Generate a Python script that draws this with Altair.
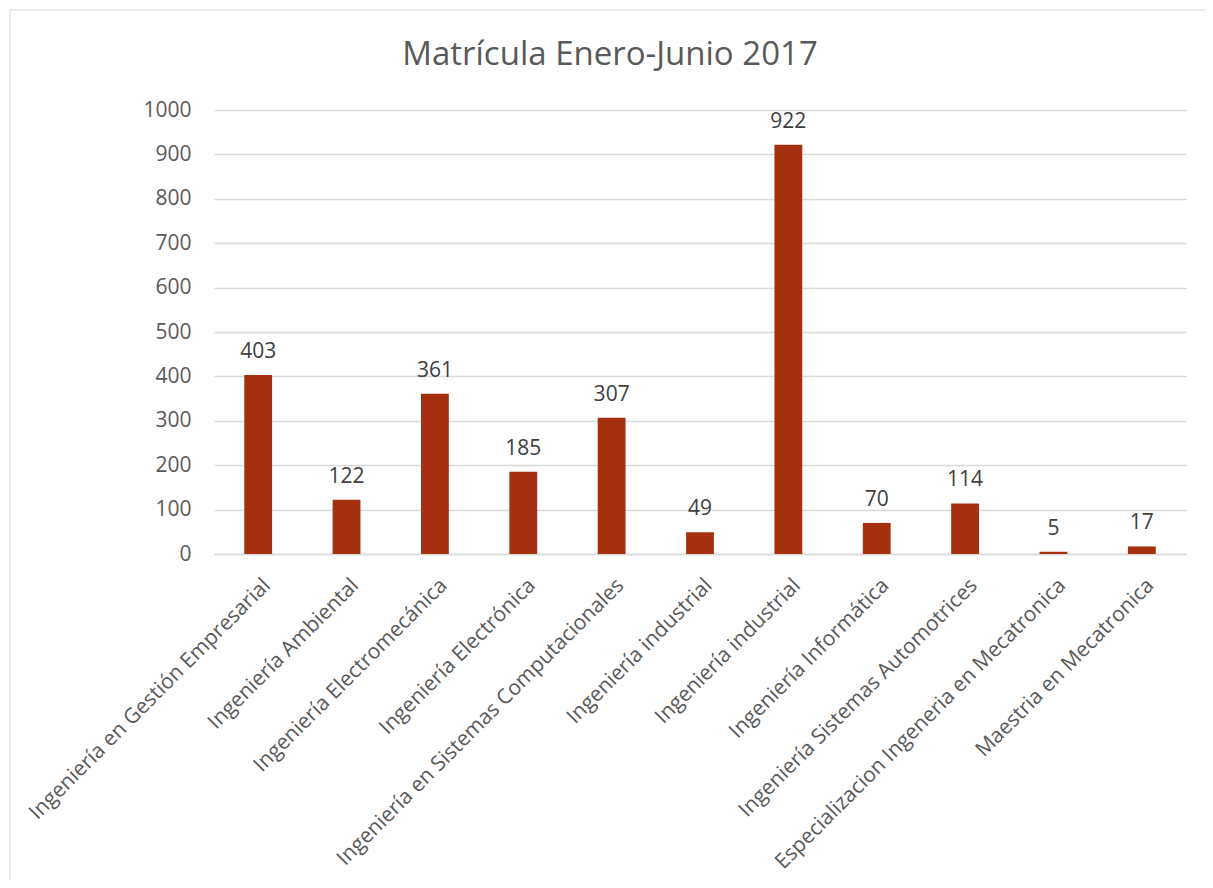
import altair as alt
import pandas as pd

programas = [
    "Ingeniería en Gestión Empresarial",
    "Ingeniería Ambiental",
    "Ingeniería Electromecánica",
    "Ingeniería Electrónica",
    "Ingeniería en Sistemas Computacionales",
    "Ingeniería industrial",
    "Ingeniería industrial ",
    "Ingeniería Informática",
    "Ingeniería Sistemas Automotrices",
    "Especializacion Ingeneria en Mecatronica",
    "Maestria en Mecatronica",
]
matricula = [403, 122, 361, 185, 307, 49, 922, 70, 114, 5, 17]
y_ticks = [0, 100, 200, 300, 400, 500, 600, 700, 800, 900, 1000]
titulo = "Matrícula Enero-Junio 2017"

df = pd.DataFrame({"programa": programas, "matricula": matricula})

FONT = "Open Sans"
W, H = 972, 444
PL, PT, PR, PB = 206, 102, 19, 326

xenc = alt.X(
    "programa:N",
    sort=programas,
    scale=alt.Scale(paddingInner=0.685, paddingOuter=0.3425),
    axis=alt.Axis(
        title=None,
        labelAngle=-45,
        labelAlign="right",
        labelBaseline="middle",
        labelPadding=28,
        labelOffset=9,
        labelFontSize=21,
        labelColor="#595959",
        labelFont=FONT,
        labelExpr="trim(datum.label)",
        labelLimit=500,
        ticks=False,
        domain=True,
        domainColor="#d9d9d9",
        domainWidth=1.3,
        grid=False,
    ),
)
yenc = alt.Y(
    "matricula:Q",
    scale=alt.Scale(domain=[0, 1000], nice=False),
    axis=alt.Axis(
        title=None,
        values=y_ticks,
        format="d",
        labelFontSize=21,
        labelColor="#595959",
        labelFont=FONT,
        labelPadding=23,
        ticks=False,
        domain=False,
        gridColor="#d9d9d9",
        gridWidth=1.3,
    ),
)

base = alt.Chart(pd.DataFrame({"t": [titulo]}))

border = base.mark_rect(
    fill=None, stroke="#d9d9d9", strokeWidth=1, clip=False
).encode(
    x=alt.value(-PL + 2), x2=alt.value(W + PR + 20),
    y=alt.value(-PT + 2), y2=alt.value(H + PB + 20),
)

title = base.mark_text(
    fontSize=33, font=FONT, color="#595959", align="center", baseline="middle"
).encode(x=alt.value(W / 2 - 90), y=alt.value(-55), text="t:N")

bars = alt.Chart(df).mark_bar(color="#A5300F").encode(x=xenc, y=yenc)
labels = alt.Chart(df).mark_text(
    dy=-23, fontSize=21, color="#404040", font=FONT
).encode(
    x=alt.X("programa:N", sort=programas),
    y="matricula:Q",
    text="matricula:Q",
)

chart = (
    alt.layer(border, bars, labels, title)
    .properties(
        width=W,
        height=H,
        autosize=alt.AutoSizeParams(type="none"),
        padding={"left": PL, "top": PT, "right": PR, "bottom": PB},
    )
    .configure(background="white", view=alt.ViewConfig(strokeWidth=0, stroke="transparent"))
)

chart.save("out.html", embed_options={"renderer": "svg", "actions": False})
